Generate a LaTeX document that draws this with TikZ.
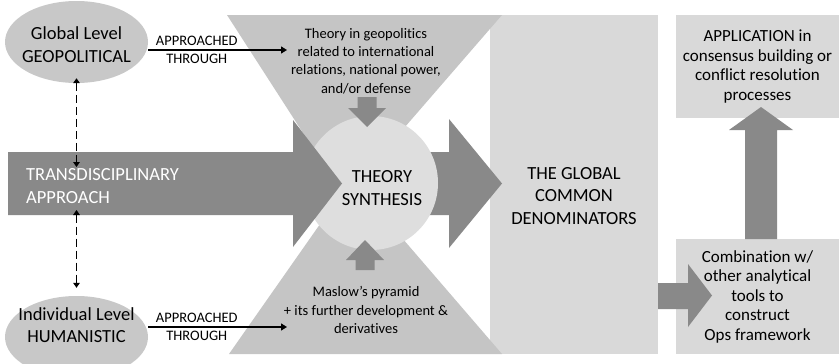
\documentclass[tikz,border=0pt]{standalone}
\usepackage{fontspec}
\setmainfont{Carlito}[Ligatures={TeX,NoCommon}]
\usetikzlibrary{arrows.meta, shapes.geometric}
\definecolor{darkg}{RGB}{137,137,137}
\definecolor{boxg}{RGB}{217,217,217}
\definecolor{trapg}{RGB}{197,197,197}
\definecolor{circg}{RGB}{222,222,222}
\definecolor{ellg}{RGB}{200,200,200}
\tikzstyle{fat} = [fill=darkg]
\tikzstyle{trap} = [fill=trapg]
\tikzstyle{box} = [fill=boxg, inner sep=0, align=center]
\tikzstyle{lvl} = [ellipse, fill=ellg, minimum width=143, minimum height=82, inner sep=0]
\tikzstyle{big} = [font=\fontsize{18.5}{22.5}\selectfont, align=center, inner sep=0]
\tikzstyle{mid} = [font=\fontsize{17}{19.5}\selectfont, align=center, inner sep=0]
\tikzstyle{small} = [font=\fontsize{14.5}{18.3}\selectfont, align=center, inner sep=0]
\tikzstyle{thru} = [line width=1.4pt, -{Triangle[length=6pt, width=7pt]}]
\tikzstyle{updown} = [line width=1.7pt, dash pattern=on 8pt off 4pt, {Triangle[length=5pt, width=6.5pt]}-{Triangle[length=5pt, width=6.5pt]}]

\begin{document}
\begin{tikzpicture}[x=1pt, y=-1pt]
    \useasboundingbox (0,0) rectangle (839,364);

    % boxes on the right
    \node[box, minimum width=168, minimum height=339] (gcdbox) at (574,184.5) {};
    \node[box, mid, minimum width=163, minimum height=103] (appl) at (757.5,66.5)
        {APPLICATION in\\consensus building or\\conflict resolution\\processes};
    \node[box, mid, minimum width=163, minimum height=115] (comb) at (757.5,296.5)
        {Combination w/\\other analytical\\tools to\\construct\\Ops framework};

    % hourglass
    \fill[trap] (227,15) -- (502,15) -- (385,150) -- (314,150) -- cycle;
    \fill[trap] (229,354) -- (502,354) -- (384,217) -- (325,217) -- cycle;

    % block arrows
    \fill[fat] (400,152) -- (449,152) -- (449,119) -- (502,183.5) -- (449,248) -- (449,215) -- (400,215) -- cycle;
    \node[circle, fill=circg, minimum size=134, inner sep=0] (synth) at (371,183) {};
    \fill[fat] (8,152) -- (293,152) -- (293,120) -- (342,183.5) -- (293,247) -- (293,215) -- (8,215) -- cycle;
    \foreach \cx/\b/\h/\t in {367/97/108/127, 365/270/260/240}
        \fill[fat] (\cx-9.5,\b) -- (\cx+9.5,\b) -- (\cx+9.5,\h) -- (\cx+19,\h) -- (\cx,\t)
            -- (\cx-19,\h) -- (\cx-9.5,\h) -- cycle;
    \fill[fat] (745,239) -- (745,130) -- (729,130) -- (761,107) -- (793,130) -- (777,130) -- (777,239) -- cycle;
    \fill[fat] (658,283) -- (688,283) -- (688,264) -- (712,295.5) -- (688,327) -- (688,309) -- (658,309) -- cycle;

    % texts
    \node[small] (geo) at (366,61) {Theory in geopolitics\\related to international\\relations, national power,\\and/or defense};
    \node[small] (mas) at (366,310) {Maslow's pyramid\\+ its further development \&\\derivatives};
    \node[big, text=white, align=left, anchor=west] (td) at (26,186) {TRANSDISCIPLINARY\\APPROACH};
    \node[big] (synthlbl) at (382,188) {THEORY\\SYNTHESIS};
    \node[big] (gcd) at (574,196) {THE GLOBAL\\COMMON\\DENOMINATORS};

    % levels
    \node[lvl] (globell) at (76.5,42) {};
    \node[big] (glob) at (76.5,44.5) {Global Level\\GEOPOLITICAL};
    \node[lvl] (indell) at (76.5,337) {};
    \node[big] (ind) at (76.5,325) {Individual Level\\HUMANISTIC};

    \coordinate (geoin) at (287,50);
    \coordinate (masin) at (287,327);
    \coordinate (tdtop) at (76.5,167);
    \coordinate (tdbot) at (76.5,210);
    \draw[thru] ([yshift=-8pt]globell.east) -- node[small, pos=.35] {APPROACHED\\THROUGH} (geoin);
    \draw[thru] ([yshift=10pt]indell.east) -- node[small, pos=.35] {APPROACHED\\THROUGH} (masin);
    \draw[updown] ([yshift=5pt]globell.south) -- (tdtop);
    \draw[updown] (tdbot) -- ([yshift=8pt]indell.north);
\end{tikzpicture}
\end{document}
